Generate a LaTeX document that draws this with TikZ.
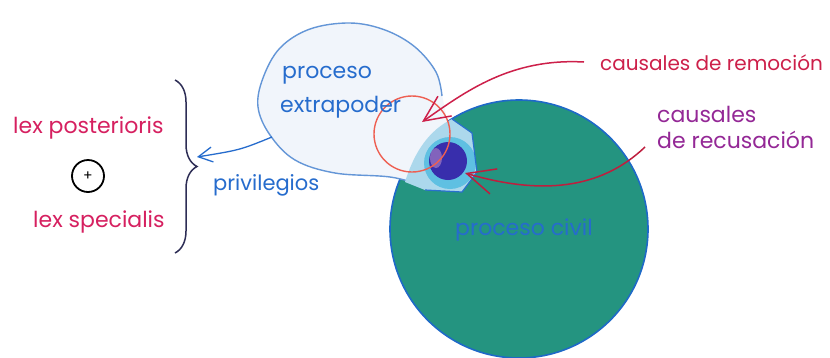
\documentclass[tikz,border=0pt]{standalone}
\usepackage{fontspec}
\setmainfont{Poppins}
\usetikzlibrary{arrows.meta,decorations.pathreplacing}
\definecolor{lexpink}{RGB}{214,32,96}
\definecolor{remred}{RGB}{205,32,74}
\definecolor{recpurple}{RGB}{148,40,150}
\definecolor{txtblue}{RGB}{38,108,205}
\definecolor{civgreen}{RGB}{36,148,128}
\definecolor{civedge}{RGB}{30,105,200}
\definecolor{blobfill}{RGB}{241,245,251}
\definecolor{blobedge}{RGB}{100,150,215}
\definecolor{ringred}{RGB}{238,95,82}
\definecolor{halolight}{RGB}{172,216,236}
\definecolor{halocyan}{RGB}{95,192,226}
\definecolor{haloedge}{RGB}{40,112,205}
\definecolor{coreblue}{RGB}{56,46,172}
\definecolor{arrred}{RGB}{190,30,62}
\definecolor{bracecol}{RGB}{45,45,85}
\tikzset{
  lbl/.style={inner sep=0pt, anchor=base west, font=\fontsize{22}{26}\selectfont},
  pinklbl/.style={lbl, text=lexpink},
  bluelbl/.style={lbl, text=txtblue},
  remarrow/.style={draw=remred, line width=1.5pt, -{Straight Barb[length=26pt,width=24pt,line width=1.5pt]}},
  recarrow/.style={draw=arrred, line width=1.5pt, -{Straight Barb[length=28pt,width=26pt,line width=1.5pt]}},
  bluearrow/.style={draw=txtblue, line width=1.3pt, -{Straight Barb[length=14pt,width=15pt,line width=1.3pt]}}
}
\begin{document}
\begin{tikzpicture}[x=1pt,y=-1pt]
\useasboundingbox (0,0) rectangle (830,357);
\fill[white] (0,0) rectangle (830,357);
% proceso civil
\path[fill=civgreen, draw=civedge, line width=1.6pt] (519,229) circle[radius=129];
% proceso extrapoder bubble
\path[fill=blobfill] plot[smooth cycle, tension=0.6] coordinates {(443,100) (436,72) (415,47) (385,30) (350,23) (310,29) (280,48) (263,78) (258,107) (270,135) (295,160) (335,173) (390,177) (430,186) (452,182) (450,140)};
\draw[blobedge, line width=1.4pt] plot[smooth, tension=0.6] coordinates {(442,96) (436,72) (415,47) (385,30) (350,23) (310,29) (280,48) (263,78) (258,107) (270,135) (295,160) (335,173) (390,177) (430,186) (455,182)};
% inside of red ring
\fill[blobfill] (412,134) circle[radius=38];
% halo
\fill[halolight] (405,182) .. controls (415,150) and (430,130) .. (452,119) -- (472,133) -- (477,172) -- (462,192) -- (425,190) -- cycle;
\fill[halocyan] (450,163) circle[radius=26];
\draw[haloedge, line width=1.2pt] (452,119) -- (472,133) -- (477,172) -- (462,192) -- (425,190);
% core
\fill[coreblue] (448,161) circle[radius=19];
\fill[violet!40, opacity=0.5] (436,158) ellipse[x radius=6, y radius=10];
% red ring
\draw[ringred, line width=1.4pt] (412,134) circle[radius=38];
% labels
\node[pinklbl] (lexpost) at (13,133) {lex posterioris};
\node[draw=black, line width=1.8pt, circle, minimum size=32pt, inner sep=0pt, font=\fontsize{14}{14}\selectfont] (plus) at (88,176) {+};
\node[pinklbl] (lexspec) at (33,227) {lex specialis};
\node[bluelbl] (proc) at (282,78) {proceso};
\node[bluelbl] (extra) at (280,112) {extrapoder};
\node[bluelbl, font=\fontsize{21}{25}\selectfont] (priv) at (213,190) {privilegios};
\node[bluelbl] (civil) at (455,235) {proceso civil};
\node[lbl, text=remred, font=\fontsize{20}{24}\selectfont] (remo) at (600,70) {causales de remoción};
\node[lbl, text=recpurple] (recu1) at (657,122) {causales};
\node[lbl, text=recpurple] (recu2) at (657,148) {de recusación};
% brace
\coordinate (btop) at (175,80);
\coordinate (bbot) at (175,253);
\draw[bracecol, line width=1.5pt, decorate, decoration={brace, amplitude=22pt}] (btop) -- (bbot);
% connectors
\coordinate (remstart) at (584,62);
\coordinate (remtip) at (422,122);
\draw[remarrow] (remstart) .. controls (510,58) and (465,92) .. (remtip);
\coordinate (recstart) at (645,147);
\coordinate (rectip) at (465,173);
\draw[recarrow] (recstart) .. controls (600,190) and (540,195) .. (rectip);
\coordinate (privstart) at (272,137);
\coordinate (bracetip) at (197,157);
\draw[bluearrow] (privstart) .. controls (240,150) .. (bracetip);
\end{tikzpicture}
\end{document}
